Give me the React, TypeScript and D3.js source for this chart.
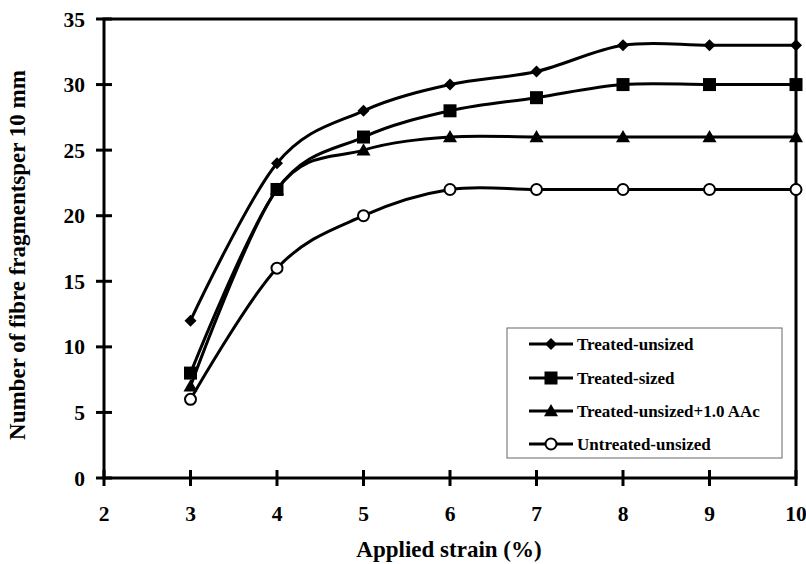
import React from "react";
import * as d3 from "d3";

const strains = [3, 4, 5, 6, 7, 8, 9, 10];
const treatedUnsized = [12, 24, 28, 30, 31, 33, 33, 33];
const treatedSized = [8, 22, 26, 28, 29, 30, 30, 30];
const treatedAAc = [7, 22, 25, 26, 26, 26, 26, 26];
const untreatedUnsized = [6, 16, 20, 22, 22, 22, 22, 22];
const seriesNames = ["Treated-unsized", "Treated-sized", "Treated-unsized+1.0 AAc", "Untreated-unsized"];
const markerTypes = ["diamond", "square", "triangle", "circle"];
const xTicks = [2, 3, 4, 5, 6, 7, 8, 9, 10];
const yTicks = [0, 5, 10, 15, 20, 25, 30, 35];

const W = 806, H = 564;
const left = 104, right = 796, top = 19, bottom = 478;
const font = "'Liberation Serif', 'Times New Roman', serif";

function Marker({ type, x, y }: { type: string; x: number; y: number }) {
  if (type === "diamond") {
    const s = 6;
    return <path d={`M${x},${y - s}L${x + s},${y}L${x},${y + s}L${x - s},${y}Z`} fill="#000" />;
  }
  if (type === "square") {
    const s = 6.5;
    return <rect x={x - s} y={y - s} width={2 * s} height={2 * s} fill="#000" />;
  }
  if (type === "triangle") {
    const s = 7;
    return <path d={`M${x},${y - s}L${x + s},${y + s * 0.75}L${x - s},${y + s * 0.75}Z`} fill="#000" />;
  }
  return <circle cx={x} cy={y} r={5.5} fill="#fff" stroke="#000" strokeWidth={2} />;
}

export default function App() {
  const xs = d3.scaleLinear().domain([2, 10]).range([left, right]);
  const ys = d3.scaleLinear().domain([0, 35]).range([bottom, top]);
  const all = [treatedUnsized, treatedSized, treatedAAc, untreatedUnsized];
  const line = d3
    .line<number>()
    .x((_, i) => xs(strains[i]))
    .y((d) => ys(d))
    .curve(d3.curveCardinal.tension(0));

  const legX = 507, legY = 328, legW = 275, legH = 130;
  const legRows = [344, 378, 411, 444];

  return (
    <svg width={W} height={H} style={{ position: "absolute", left: 0, top: 0, background: "#fff" }}>
      <rect x={0} y={0} width={W} height={H} fill="#fff" />
      <rect x={left} y={top} width={right - left} height={bottom - top} fill="none" stroke="#000" strokeWidth={3} />
      {yTicks.map((t) => (
        <g key={"y" + t}>
          <line x1={left - 8} x2={left + 8} y1={ys(t)} y2={ys(t)} stroke="#000" strokeWidth={3} />
          <text x={left - 19} y={ys(t) + 7.5} textAnchor="end" fontFamily={font} fontWeight="bold" fontSize={21.5}>
            {t}
          </text>
        </g>
      ))}
      {xTicks.map((t) => (
        <g key={"x" + t}>
          <line x1={xs(t)} x2={xs(t)} y1={bottom - 8} y2={bottom + 8} stroke="#000" strokeWidth={3} />
          <text x={xs(t)} y={521} textAnchor="middle" fontFamily={font} fontWeight="bold" fontSize={21.5}>
            {t}
          </text>
        </g>
      ))}
      {all.map((vals, si) => (
        <g key={"s" + si}>
          <path d={line(vals) || ""} fill="none" stroke="#000" strokeWidth={3} />
          {vals.map((v, i) => (
            <Marker key={i} type={markerTypes[si]} x={xs(strains[i])} y={ys(v)} />
          ))}
        </g>
      ))}
      <rect x={legX} y={legY} width={legW} height={legH} fill="#fff" stroke="#666" strokeWidth={1} />
      {seriesNames.map((n, i) => (
        <g key={"l" + i}>
          <line x1={529} x2={573} y1={legRows[i]} y2={legRows[i]} stroke="#000" strokeWidth={3} />
          <Marker type={markerTypes[i]} x={551} y={legRows[i]} />
          <text x={577} y={legRows[i] + 6} fontFamily={font} fontWeight="bold" fontSize={17}>
            {n}
          </text>
        </g>
      ))}
      <text x={449} y={557} textAnchor="middle" fontFamily={font} fontWeight="bold" fontSize={23}>
        Applied strain (%)
      </text>
      <text
        transform={`translate(25,255) rotate(-90)`}
        textAnchor="middle"
        fontFamily={font}
        fontWeight="bold"
        fontSize={23}
      >
        Number of fibre fragmentsper 10 mm
      </text>
    </svg>
  );
}
